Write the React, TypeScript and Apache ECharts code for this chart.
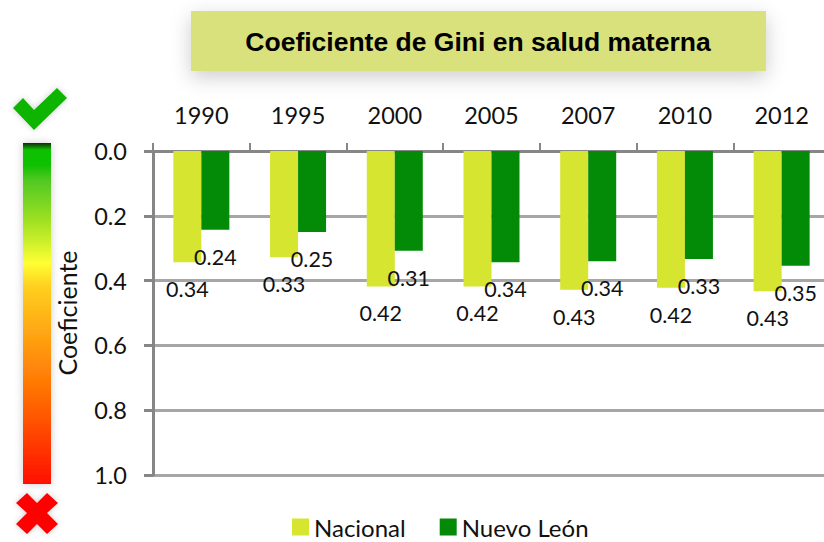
import React, { useEffect, useRef } from "react";
import * as echarts from "echarts";

const years = ["1990", "1995", "2000", "2005", "2007", "2010", "2012"];
const nacional = [0.343, 0.328, 0.418, 0.418, 0.428, 0.422, 0.433];
const nuevoLeon = [0.243, 0.25, 0.308, 0.343, 0.34, 0.333, 0.354];
const titleText = "Coeficiente de Gini en salud materna";
const yName = "Coeficiente";
const FONT = "Lato, 'Open Sans', sans-serif";

export default function App() {
  const ref = useRef<HTMLDivElement>(null);
  useEffect(() => {
    const chart = echarts.init(ref.current!, undefined, { renderer: "svg" });
    const label = {
      show: true,
      position: "bottom" as const,
      distance: 16,
      fontFamily: FONT,
      fontSize: 21.5,
      color: "#111",
      formatter: (p: any) => Number(p.value).toFixed(2),
    };
    chart.setOption({
      animation: false,
      backgroundColor: "#fff",
      grid: { left: 153, top: 151, width: 677, height: 324, containLabel: false },
      legend: {
        left: 287,
        top: 510,
        itemWidth: 17,
        itemHeight: 17,
        itemGap: 34,
        icon: "rect",
        textStyle: { fontFamily: FONT, fontSize: 24, color: "#111" },
        data: ["Nacional", "Nuevo León"],
      },
      xAxis: {
        type: "category",
        position: "top",
        data: years,
        axisLine: { lineStyle: { color: "#868686", width: 3 } },
        axisTick: { show: true, alignWithLabel: false, length: 8, lineStyle: { color: "#868686", width: 2 } },
        axisLabel: { fontFamily: FONT, fontSize: 23.5, color: "#111", margin: 24 },
      },
      yAxis: {
        type: "value",
        inverse: true,
        min: 0,
        max: 1,
        interval: 0.2,
        name: yName,
        nameLocation: "middle",
        nameGap: 74,
        nameTextStyle: { fontFamily: FONT, fontSize: 25, color: "#111" },
        axisLine: { show: true, lineStyle: { color: "#868686", width: 3 } },
        axisTick: { show: true, length: 9, lineStyle: { color: "#868686", width: 3 } },
        axisLabel: { fontFamily: FONT, fontSize: 23.5, color: "#111", margin: 26, formatter: (v: number) => v.toFixed(1) },
        splitLine: { show: true, lineStyle: { color: "#a6a6a6", width: 3 } },
      },
      series: [
        { name: "Nacional", type: "bar", data: nacional, barWidth: 28, barGap: "0%", itemStyle: { color: "#d6e52f" }, label },
        { name: "Nuevo León", type: "bar", data: nuevoLeon, barWidth: 28, itemStyle: { color: "#038a07" }, label },
      ],
      graphic: [
        {
          type: "rect",
          shape: { x: 191, y: 11, width: 575, height: 60 },
          style: { fill: "#d9e17c", shadowBlur: 20, shadowColor: "rgba(0,0,0,0.2)", shadowOffsetY: 6 },
        },
        {
          type: "text",
          x: 478,
          y: 42,
          style: {
            text: titleText,
            fontFamily: "'Liberation Sans', Arial, sans-serif",
            fontWeight: "bold",
            fontSize: 26.5,
            fill: "#000",
            align: "center",
            verticalAlign: "middle",
          },
        },
        {
          type: "rect",
          shape: { x: 23, y: 143, width: 28, height: 341 },
          style: {
            shadowBlur: 8,
            shadowColor: "rgba(0,0,0,0.2)",
            fill: new echarts.graphic.LinearGradient(0, 0, 0, 1, [
              { offset: 0, color: "#0b2a0b" },
              { offset: 0.02, color: "#10c000" },
              { offset: 0.065, color: "#10c000" },
              { offset: 0.108, color: "#50c820" },
              { offset: 0.205, color: "#8fdc20" },
              { offset: 0.285, color: "#c8ee2a" },
              { offset: 0.352, color: "#ffff33" },
              { offset: 0.42, color: "#ffd020" },
              { offset: 0.75, color: "#ff6a00" },
              { offset: 1, color: "#ff1000" },
            ]),
          },
        },
        {
          type: "polygon",
          shape: { points: [[13, 108], [23, 98], [34, 110], [57, 88], [67, 98], [34, 130]] },
          style: { fill: "#0ab400", shadowBlur: 6, shadowColor: "rgba(0,0,0,0.2)" },
        },
        {
          type: "polygon",
          shape: {
            points: [[27, 493], [37, 503], [47, 493], [58, 503], [47, 513], [58, 524], [47, 534], [37, 524], [27, 534], [16, 524], [27, 513], [16, 503]],
          },
          style: { fill: "#ff0000", shadowBlur: 6, shadowColor: "rgba(0,0,0,0.2)" },
        },
      ],
    });
    return () => chart.dispose();
  }, []);
  return (
    <div style={{ position: "fixed", left: 0, top: 0, width: 824, height: 542, overflow: "hidden" }}>
      <div ref={ref} style={{ width: 840, height: 542 }} />
    </div>
  );
}
